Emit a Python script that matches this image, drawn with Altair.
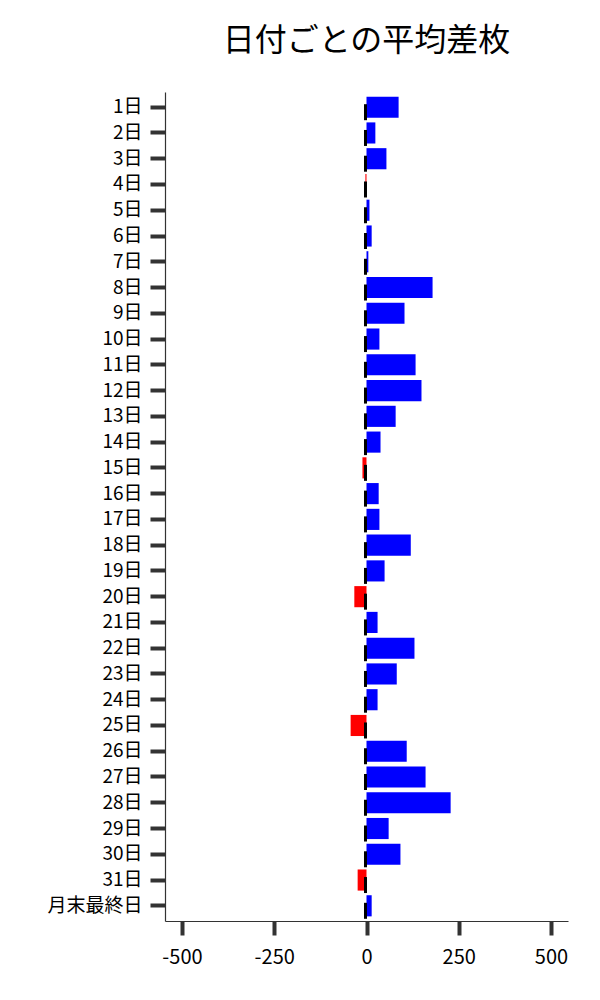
import altair as alt
import pandas as pd

days = [f"{i}日" for i in range(1, 32)] + ["月末最終日"]
values = [87, 24, 54, -3, 8, 14, 5, 179, 103, 35, 133, 149, 79, 38, -11, 33,
          35, 120, 49, -33, 30, 130, 82, 30, -43, 109, 160, 228, 60, 92, -24, 14]
x_ticks = [-500, -250, 0, 250, 500]

df = pd.DataFrame({"day": days, "value": values})
df["color"] = ["blue" if v >= 0 else "red" for v in values]
df["zero"] = 0

FONT = "Noto Sans CJK JP"

x_scale = alt.Scale(domain=[-546, 546], nice=False, zero=False)
y_scale = alt.Scale(paddingInner=0.18, paddingOuter=0.18)

y_enc = alt.Y("day:N", sort=days, title=None, scale=y_scale,
              axis=alt.Axis(labelFont=FONT, labelFontSize=19, labelColor="#000",
                            tickSize=15, tickWidth=4, tickColor="#333",
                            domainColor="#333", domainWidth=1.2, labelPadding=8,
                            grid=False))

bars = alt.Chart(df).mark_bar().encode(
    x=alt.X("value:Q", scale=x_scale, title=None,
            axis=alt.Axis(values=x_ticks, labelFont=FONT, labelExpr="datum.value + ''",
                          labelFontSize=20, labelColor="#000", tickSize=14,
                          tickWidth=4, tickColor="#333", domainColor="#333",
                          domainWidth=1.2, labelPadding=12, grid=False)),
    x2=alt.X2("zero:Q"),
    y=y_enc,
    color=alt.Color("color:N", scale=None),
)

ticks = alt.Chart(df).mark_tick(color="black", thickness=3, size=16, yOffset=5, xOffset=-1,
                                opacity=1).encode(
    x=alt.X("zero:Q", scale=x_scale),
    y=alt.Y("day:N", sort=days, scale=y_scale),
)

chart = alt.layer(bars, ticks).properties(
    width=403, height=829,
    title=alt.TitleParams("日付ごとの平均差枚", font=FONT, fontSize=32,
                          fontWeight="normal", color="#000", offset=34, anchor="middle"),
    autosize=alt.AutoSizeParams(type="none"),
    padding={"left": 157, "top": 84, "right": 20, "bottom": 60},
    background="white",
).configure_view(strokeWidth=0, stroke=None)

chart.save("out.html", embed_options={"renderer": "svg", "actions": False})
